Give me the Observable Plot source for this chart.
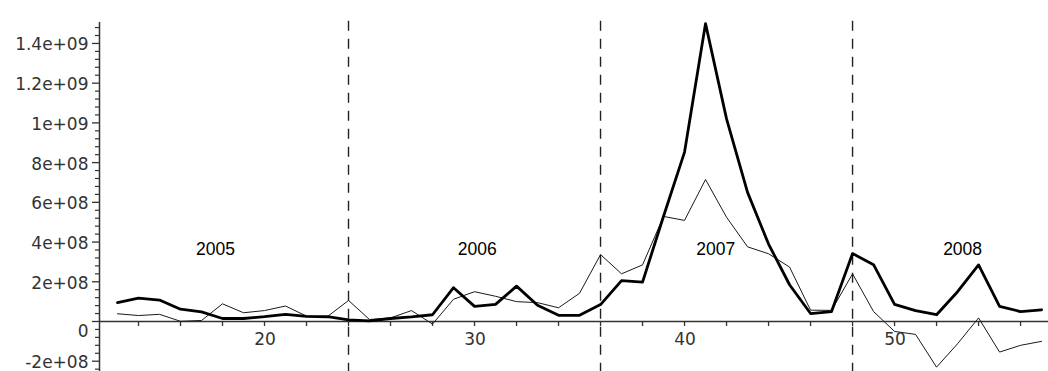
<!DOCTYPE html>
<html>
<head>
<meta charset="utf-8">
<script src="https://cdn.jsdelivr.net/npm/d3@7"></script>
<script src="https://cdn.jsdelivr.net/npm/@observablehq/plot@0.6"></script>
<style>
  html, body { margin: 0; padding: 0; background: #fff; }
  svg { display: block; }
  text[aria-label="tick-label"], g[aria-label="tick-label"] text { letter-spacing: 0.7px; }
</style>
</head>
<body>
<div id="chart"></div>
<script>
// ---- data (values in units of 1e8) ----
const unit = 1e8;
const periods = [13,14,15,16,17,18,19,20,21,22,23,24,25,26,27,28,29,30,31,32,33,34,35,36,37,38,39,40,41,42,43,44,45,46,47,48,49,50,51,52,53,54,55,56,57];
const seriesThick = [0.95,1.18,1.08,0.62,0.48,0.15,0.15,0.24,0.36,0.26,0.24,0.08,0.03,0.15,0.23,0.34,1.70,0.76,0.86,1.78,0.82,0.31,0.31,0.85,2.06,1.98,5.30,8.53,15.0,10.2,6.5,3.9,1.85,0.40,0.50,3.42,2.86,0.86,0.55,0.34,1.50,2.85,0.76,0.50,0.59];
const seriesThin  = [0.39,0.30,0.36,0.01,0.05,0.89,0.44,0.55,0.78,0.27,0.25,1.06,0.10,0.18,0.55,-0.13,1.12,1.50,1.27,1.00,0.95,0.69,1.42,3.37,2.40,2.85,5.29,5.09,7.15,5.25,3.76,3.41,2.74,0.57,0.56,2.40,0.50,-0.50,-0.65,-2.30,-1.12,0.18,-1.54,-1.20,-1.00];

const yearLabels = ["2005", "2006", "2007", "2008"];
const yearLabelX = [17.67, 30.13, 41.49, 53.24];
const yearLabelY = 3.65e8;
const dividers = [24, 36, 48];

const xTickValues = [14,16,18,20,22,24,26,28,30,32,34,36,38,40,42,44,46,48,50,52,54,56];
const xTickLabels = [20, 30, 40, 50];
const yTickValues = [-2e8, 0, 2e8, 4e8, 6e8, 8e8, 1e9, 1.2e9, 1.4e9];
const yTickLabels = ["-2e+08", "0", "2e+08", "4e+08", "6e+08", "8e+08", "1e+09", "1.2e+09", "1.4e+09"];
const yMinorValues = d3.range(-24, 150, 4).map(v => v * 1e7).filter(v => Math.abs(v % 2e8) > 1);

const xDomain = [12.143, 57.33];
const yDomain = [-2.518e8, 1.5055e9];

const thickData = periods.map((p, i) => ({x: p, y: seriesThick[i] * unit}));
const thinData = periods.map((p, i) => ({x: p, y: seriesThin[i] * unit}));
const yLabelData = yTickValues.map((v, i) => ({v, label: yTickLabels[i]}));

const axisColor = "#333";
const font = "Liberation Sans, Arial, sans-serif";
const tickFont = "DejaVu Sans, sans-serif";

const chart = Plot.plot({
  width: 1048,
  height: 371,
  marginLeft: 99,
  marginRight: 0,
  marginTop: 22,
  marginBottom: 0,
  style: {fontFamily: font, background: "#fff"},
  x: {domain: xDomain, axis: null},
  y: {domain: yDomain, axis: null},
  marks: [
    // dashed year dividers
    Plot.ruleX(dividers, {x: d => d, y1: -2.6e8, y2: 1.55e9, stroke: "#222", strokeWidth: 1.4, strokeDasharray: "10,8"}),
    // axis lines
    Plot.ruleX([xDomain[0]], {x: d => d, y1: yDomain[0], y2: yDomain[1], stroke: axisColor, strokeWidth: 1.5}),
    Plot.ruleY([0], {y: d => d, stroke: axisColor, strokeWidth: 1.6}),
    // y ticks
    Plot.ruleY(yTickValues, {y: d => d, x1: xDomain[0], x2: xDomain[0], insetLeft: -7, stroke: axisColor, strokeWidth: 1.3}),
    Plot.ruleY(yMinorValues, {y: d => d, x1: xDomain[0], x2: xDomain[0], insetLeft: -4, stroke: axisColor, strokeWidth: 1.2}),
    // x ticks
    Plot.ruleX(xTickValues, {x: d => d, y1: 0, y2: 0, insetBottom: -5, stroke: axisColor, strokeWidth: 1.3}),
    // series
    Plot.line(thinData, {x: "x", y: "y", stroke: "#1a1a1a", strokeWidth: 1}),
    Plot.line(thickData, {x: "x", y: "y", stroke: "#000", strokeWidth: 2.8}),
    // y tick labels
    Plot.text(yLabelData.filter(d => d.v !== 0), {x: xDomain[0], y: "v", text: "label", textAnchor: "end", dx: -11, dy: 1.5, fontSize: 17, fontFamily: tickFont, fill: "#333", ariaLabel: "tick-label"}),
    Plot.text(yLabelData.filter(d => d.v === 0), {x: xDomain[0], y: "v", text: "label", textAnchor: "end", dx: -11, dy: 10.5, fontSize: 17, fontFamily: tickFont, fill: "#333", ariaLabel: "tick-label"}),
    // x tick labels
    Plot.text(xTickLabels, {x: d => d, y: 0, text: d => String(d), dy: 18.5, dx: 0.5, fontSize: 17, fontFamily: tickFont, fill: "#333", ariaLabel: "tick-label"}),
    // year labels
    Plot.text(yearLabels, {x: (d, i) => yearLabelX[i], y: yearLabelY, text: d => d, fontSize: 17.5, fill: "#000"})
  ]
});
document.getElementById("chart").appendChild(chart);
</script>
</body>
</html>
